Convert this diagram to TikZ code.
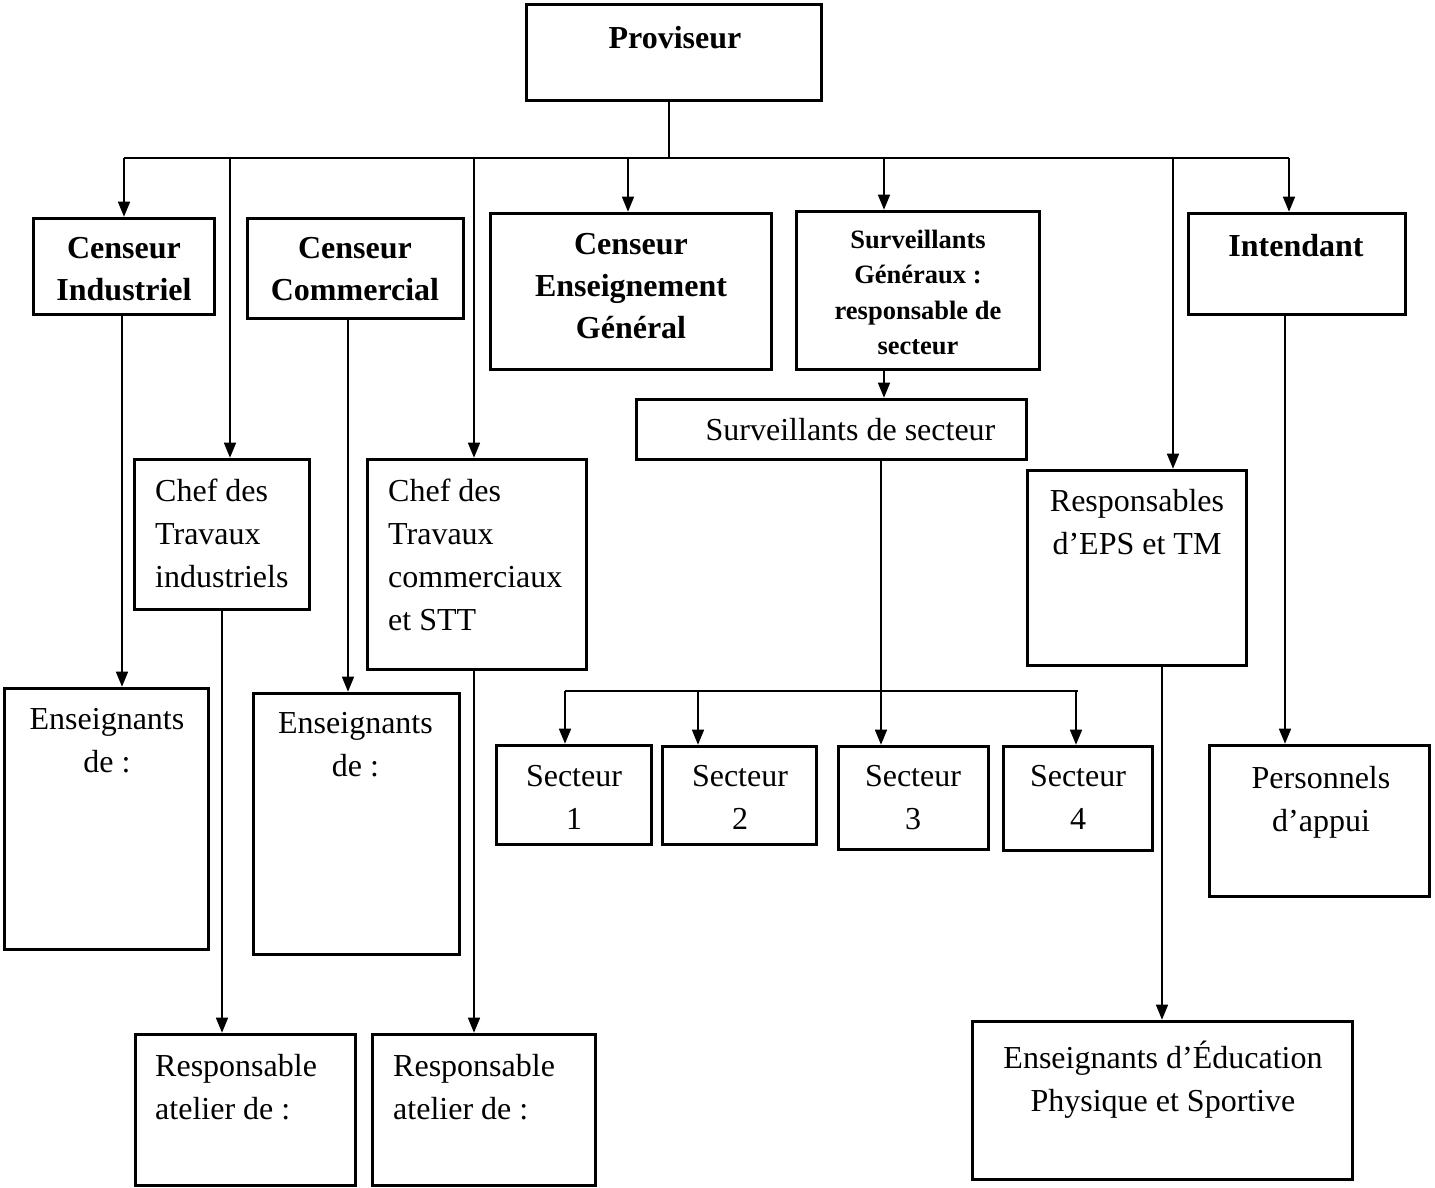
\documentclass[tikz,border=0pt]{standalone}
\usepackage{fontspec}
\setmainfont{Liberation Serif}
\usetikzlibrary{arrows.meta}

\begin{document}
\begin{tikzpicture}[x=1pt,y=-1pt,
  boite/.style={draw,line width=3.6pt,inner sep=0pt},
  texte/.style={inner sep=0pt,align=center,font=\fontsize{32}{43}\selectfont},
  gras/.style={texte,font=\fontsize{32}{42}\selectfont\bfseries},
  petitgras/.style={texte,font=\fontsize{26.5}{35.5}\selectfont\bfseries},
  trait/.style={line width=1.5pt},
  fleche/.style={trait,-{Triangle[length=15pt,width=12pt]}}]
\useasboundingbox (0,0) rectangle (1435,1188);

% cadres
\node[boite,minimum width=295,minimum height=96] (prov) at (674,52.5) {};
\node[boite,minimum width=181,minimum height=96] (ci) at (124,266.5) {};
\node[boite,minimum width=216,minimum height=100] (cc) at (355.5,268.5) {};
\node[boite,minimum width=281,minimum height=156] (ceg) at (631,291.5) {};
\node[boite,minimum width=243,minimum height=158] (sg) at (918,290.5) {};
\node[boite,minimum width=217,minimum height=101] (int) at (1297,264) {};
\node[boite,minimum width=390,minimum height=60] (ss) at (831.5,429.5) {};
\node[boite,minimum width=175,minimum height=150] (cti) at (222,534.5) {};
\node[boite,minimum width=219,minimum height=210] (ctc) at (477,564.5) {};
\node[boite,minimum width=219,minimum height=195] (reps) at (1137,568) {};
\node[boite,minimum width=204,minimum height=261] (ens1) at (106.5,819) {};
\node[boite,minimum width=206,minimum height=261] (ens2) at (356.5,824) {};
\node[boite,minimum width=220,minimum height=151] (ra1) at (245.5,1110) {};
\node[boite,minimum width=223,minimum height=151] (ra2) at (484,1110) {};
\node[boite,minimum width=155,minimum height=99] (s1) at (574,795) {};
\node[boite,minimum width=154,minimum height=98] (s2) at (739.5,795.5) {};
\node[boite,minimum width=150,minimum height=103] (s3) at (913.5,798) {};
\node[boite,minimum width=149,minimum height=104] (s4) at (1078,798.5) {};
\node[boite,minimum width=380,minimum height=158] (eeps) at (1162.5,1100.5) {};
\node[boite,minimum width=220,minimum height=151] (pa) at (1319.5,821) {};

% textes
\node[gras,anchor=north] (prov-t) at (675,26) {Proviseur};
\node[gras,anchor=north] (ci-t) at (124,237) {Censeur\\Industriel};
\node[gras,anchor=north] (cc-t) at (355,237) {Censeur\\Commercial};
\node[gras,anchor=north] (ceg-t) at (631,233) {Censeur\\Enseignement\\Général};
\node[petitgras,anchor=north] (sg-t) at (918,229.5) {Surveillants\\Généraux :\\responsable de\\secteur};
\node[gras,anchor=north] (int-t) at (1296,234) {Intendant};
\node[texte,anchor=north] (ss-t) at (850.5,418) {Surveillants de secteur};
\node[texte,align=left,anchor=north west] (cti-t) at (155,479) {Chef des\\Travaux\\industriels};
\node[texte,align=left,anchor=north west] (ctc-t) at (388,479) {Chef des\\Travaux\\commerciaux\\et STT};
\node[texte,anchor=north] (reps-t) at (1137,489) {Responsables\\d’EPS et TM};
\node[texte,anchor=north] (ens1-t) at (107,708) {Enseignants\\de :};
\node[texte,anchor=north] (ens2-t) at (355.5,712) {Enseignants\\de :};
\node[texte,align=left,anchor=north west] (ra1-t) at (155,1054) {Responsable\\atelier de :};
\node[texte,align=left,anchor=north west] (ra2-t) at (393,1054) {Responsable\\atelier de :};
\node[texte,anchor=north] (s1-t) at (574,765) {Secteur\\1};
\node[texte,anchor=north] (s2-t) at (740,765) {Secteur\\2};
\node[texte,anchor=north] (s3-t) at (913,765) {Secteur\\3};
\node[texte,anchor=north] (s4-t) at (1078,765) {Secteur\\4};
\node[texte,anchor=north] (eeps-t) at (1163,1041) {Enseignants d’Éducation\\Physique et Sportive};
\node[texte,anchor=north] (pa-t) at (1321,766) {Personnels\\d’appui};

% bus du proviseur
\coordinate (b0) at (669,158);
\coordinate (b1) at (124,158);
\coordinate (b2) at (230,158);
\coordinate (b3) at (474,158);
\coordinate (b4) at (628,158);
\coordinate (b5) at (884,158);
\coordinate (b6) at (1173,158);
\coordinate (b7) at (1289,158);
\draw[trait] ([xshift=-5pt]prov.south) -- (b0);
\draw[trait] (b1) -- (b7);
\draw[fleche] (b1) -- (b1 |- ci.north);
\draw[fleche] (b2) -- (b2 |- cti.north);
\draw[fleche] (b3) -- (b3 |- ctc.north);
\draw[fleche] (b4) -- (b4 |- ceg.north);
\draw[fleche] (b5) -- (b5 |- sg.north);
\draw[fleche] (b6) -- (b6 |- reps.north);
\draw[fleche] (b7) -- (b7 |- int.north);

% liaisons verticales
\draw[fleche] ([xshift=-2pt]ci.south) -- ([xshift=-2pt]ci.south |- ens1.north);
\draw[fleche] ([xshift=-7.5pt]cc.south) -- ([xshift=-7.5pt]cc.south |- ens2.north);
\draw[fleche] (cti.south) -- (cti.south |- ra1.north);
\draw[fleche] ([xshift=-3pt]ctc.south) -- ([xshift=-3pt]ctc.south |- ra2.north);
\draw[fleche] ([xshift=-34pt]sg.south) -- ([xshift=-34pt]sg.south |- ss.north);
\draw[fleche] ([xshift=49.5pt]ss.south) -- ([xshift=49.5pt]ss.south |- s3.north);
\draw[fleche] ([xshift=25pt]reps.south) -- ([xshift=25pt]reps.south |- eeps.north);
\draw[fleche] ([xshift=-12pt]int.south) -- ([xshift=-12pt]int.south |- pa.north);

% bus des secteurs
\coordinate (c1) at (565,691);
\coordinate (c2) at (698,691);
\coordinate (c4) at (1076,691);
\coordinate (c5) at (1078,691);
\draw[trait] (c1) -- (c5);
\draw[fleche] (c1) -- (c1 |- s1.north);
\draw[fleche] (c2) -- (c2 |- s2.north);
\draw[fleche] (c4) -- (c4 |- s4.north);
\end{tikzpicture}
\end{document}
